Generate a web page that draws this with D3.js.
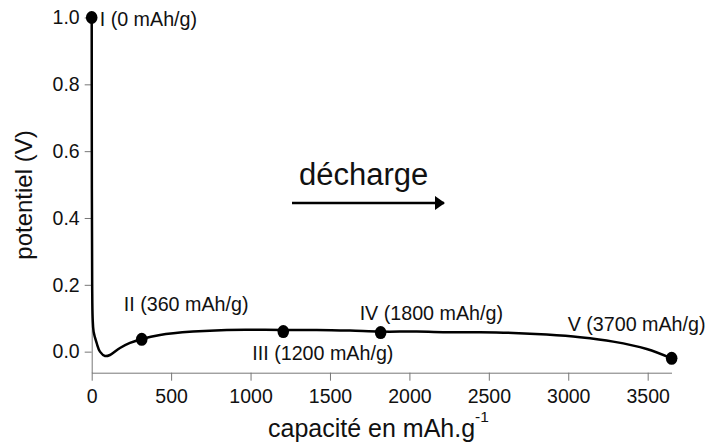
<!DOCTYPE html>
<html>
<head>
<meta charset="utf-8">
<script src="https://cdn.jsdelivr.net/npm/d3@7"></script>
<style>
  html, body { margin: 0; padding: 0; background: #fff; }
  svg { display: block; }
  text { font-family: "Liberation Sans", Arial, sans-serif; fill: #111; }
</style>
</head>
<body>
<svg id="chart" width="707" height="448"></svg>
<script>
// ---- data ----
const curveX = [0, 1, 3, 6, 12, 31, 52, 84, 115, 178, 241, 315, 430, 638, 850, 1200, 1416, 1626, 1819, 2046, 2255, 2444, 2654, 2864, 3074, 3283, 3494, 3650];
const curveY = [1.0, 0.5, 0.2, 0.1, 0.06, 0.026, 0.0, -0.013, -0.01, 0.011, 0.026, 0.038, 0.05, 0.06, 0.065, 0.065, 0.065, 0.063, 0.06, 0.06, 0.058, 0.058, 0.056, 0.051, 0.043, 0.03, 0.008, -0.02];
const pointNames = ["I (0 mAh/g)", "II (360 mAh/g)", "III (1200 mAh/g)", "IV (1800 mAh/g)", "V (3700 mAh/g)"];
const pointX = [0, 315, 1206, 1819, 3651];
const pointY = [1.0, 0.037, 0.06, 0.057, -0.02];
const xTicks = [0, 500, 1000, 1500, 2000, 2500, 3000, 3500];
const yTicks = [0.0, 0.2, 0.4, 0.6, 0.8, 1.0];
const arrowX = [1261, 2224];
const arrowY = 0.445;
const arrowLabel = "décharge";

// ---- layout (label offsets in px from each point) ----
const labelOffsets = [[8, 8.5], [-18, -28], [-31, 28], [-21, -13], [-104, -27]];

const svg = d3.select("#chart");
const x = d3.scaleLinear().domain([0, 3650]).range([91.7, 671.5]);
const y = d3.scaleLinear().domain([-0.063, 1.0]).range([372.7, 17.5]);

// axes
const axisColor = "#777";
const gx = svg.append("g").attr("transform", `translate(0,${y(-0.063)})`)
  .call(d3.axisBottom(x).tickValues(xTicks).tickFormat(d3.format("d")).tickSize(8).tickSizeOuter(0).tickPadding(8));
const gy = svg.append("g").attr("transform", `translate(${x(0)},0)`)
  .call(d3.axisLeft(y).tickValues(yTicks).tickFormat(d3.format(".1f")).tickSize(7).tickSizeOuter(0).tickPadding(5));
[gx, gy].forEach(g => {
  g.select(".domain").attr("stroke", axisColor).attr("stroke-width", 1);
  g.selectAll(".tick line").attr("stroke", axisColor).attr("stroke-width", 1);
  g.selectAll(".tick text").attr("font-size", 19.5).attr("fill", "#111")
    .attr("font-family", '"Liberation Sans", Arial, sans-serif');
});

// curve
const pts = curveX.map((v, i) => [v, curveY[i]]);
svg.append("path")
  .datum(pts)
  .attr("fill", "none")
  .attr("stroke", "#000")
  .attr("stroke-width", 2.5)
  .attr("stroke-linejoin", "round")
  .attr("d", d3.line().x(d => x(d[0])).y(d => y(d[1])).curve(d3.curveCatmullRom.alpha(0.5)));

// points
const pdata = pointNames.map((n, i) => ({ n, x: pointX[i], y: pointY[i], o: labelOffsets[i] }));
svg.selectAll("ellipse.pt").data(pdata).enter().append("ellipse")
  .attr("class", "pt")
  .attr("cx", d => x(d.x)).attr("cy", d => y(d.y))
  .attr("rx", 5.8).attr("ry", 6.5).attr("fill", "#000");
svg.selectAll("text.pl").data(pdata).enter().append("text")
  .attr("class", "pl")
  .attr("x", d => x(d.x) + d.o[0]).attr("y", d => y(d.y) + d.o[1])
  .attr("font-size", 19.7)
  .text(d => d.n);

// arrow annotation
svg.append("defs").append("marker")
  .attr("id", "ah").attr("viewBox", "0 0 10 14").attr("refX", 9).attr("refY", 7)
  .attr("markerWidth", 10).attr("markerHeight", 14).attr("markerUnits", "userSpaceOnUse")
  .attr("preserveAspectRatio", "none")
  .attr("orient", "auto")
  .append("path").attr("d", "M0,0 L10,7 L0,14 Z").attr("fill", "#000");
svg.append("line")
  .attr("x1", x(arrowX[0])).attr("x2", x(arrowX[1]) - 1)
  .attr("y1", y(arrowY)).attr("y2", y(arrowY))
  .attr("stroke", "#000").attr("stroke-width", 2.5)
  .attr("marker-end", "url(#ah)");
svg.append("text")
  .attr("x", x(arrowX[0]) + 7).attr("y", y(arrowY) - 18)
  .attr("font-size", 31)
  .text(arrowLabel);

// axis titles
const xt = svg.append("text").attr("x", 268).attr("y", 437).attr("font-size", 25);
xt.append("tspan").text("capacité en mAh.g");
xt.append("tspan").attr("font-size", 15.5).attr("dy", -15).text("-1");

svg.append("text")
  .attr("transform", "translate(32,195) rotate(-90)")
  .attr("text-anchor", "middle")
  .attr("font-size", 24)
  .text("potentiel (V)");
</script>
</body>
</html>
